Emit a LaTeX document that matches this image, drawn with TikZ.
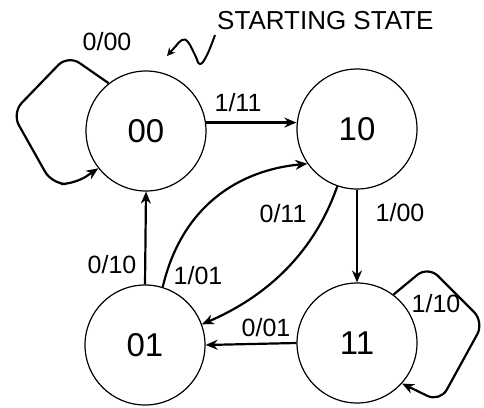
\documentclass[tikz,border=0pt]{standalone}
\usepackage{fontspec}
\setmainfont{Liberation Sans}
\usetikzlibrary{arrows.meta}
\begin{document}
\begin{tikzpicture}[x=1pt,y=-1pt,
  state/.style={circle,draw,line width=1.2pt,minimum size=120pt,inner sep=0pt,font=\fontsize{33}{33}\selectfont},
  edge/.style={line width=2.2pt,-{Stealth[length=12pt,width=10pt]}},
  lbl/.style={font=\fontsize{25}{25}\selectfont,inner sep=1pt}]
\useasboundingbox (0,0) rectangle (484,407);
\node[state] (n00) at (146,131) {00};
\node[state] (n10) at (357,129) {10};
\node[state] (n01) at (145,345) {01};
\node[state] (n11) at (357,343) {11};
% straight edges
\draw[edge] (n00.8) -- (n10.west |- n00.8);
\node[lbl] (l1) at (238,103) {1/11};
\draw[edge] (n10.south) -- (n11.north);
\node[lbl] (l2) at (400,213) {1/00};
\draw[edge] (n11.west) -- (n01.east);
\node[lbl] (l3) at (266,328) {0/01};
\draw[edge] (n01.north) -- (n00.south);
\node[lbl] (l4) at (112,265) {0/10};
% curved edges
\draw[edge] (n01.73) .. controls (182,205) and (240,170) .. (n10.215);
\node[lbl] (l5) at (198,276) {1/01};
\draw[edge] (n10.251) .. controls (315,250) and (270,295) .. (n01.20);
\node[lbl] (l6) at (283,214) {0/11};
% self loops
\draw[edge,rounded corners=14pt] (n00.128) -- (68,55) -- (12,113) -- (52,184) -- (75,184) -- (n00.218);
\node[lbl] (l7) at (107,42) {0/00};
\draw[edge,rounded corners=14pt] (n11.53) -- (428,266) -- (484,322) -- (440,402) -- (n11.-42);
\node[lbl] (l8) at (436,304) {1/10};
% starting state
\node[lbl,anchor=west,font=\fontsize{26}{26}\selectfont] (st) at (216,21) {STARTING STATE};
\draw[line width=2pt,-{Stealth[length=8pt,width=8pt]}] plot[smooth,tension=0.7] coordinates {(215,35) (207,55) (200,64) (195,55) (188,42) (182,40) (175,47) (167,56)};
\end{tikzpicture}
\end{document}
